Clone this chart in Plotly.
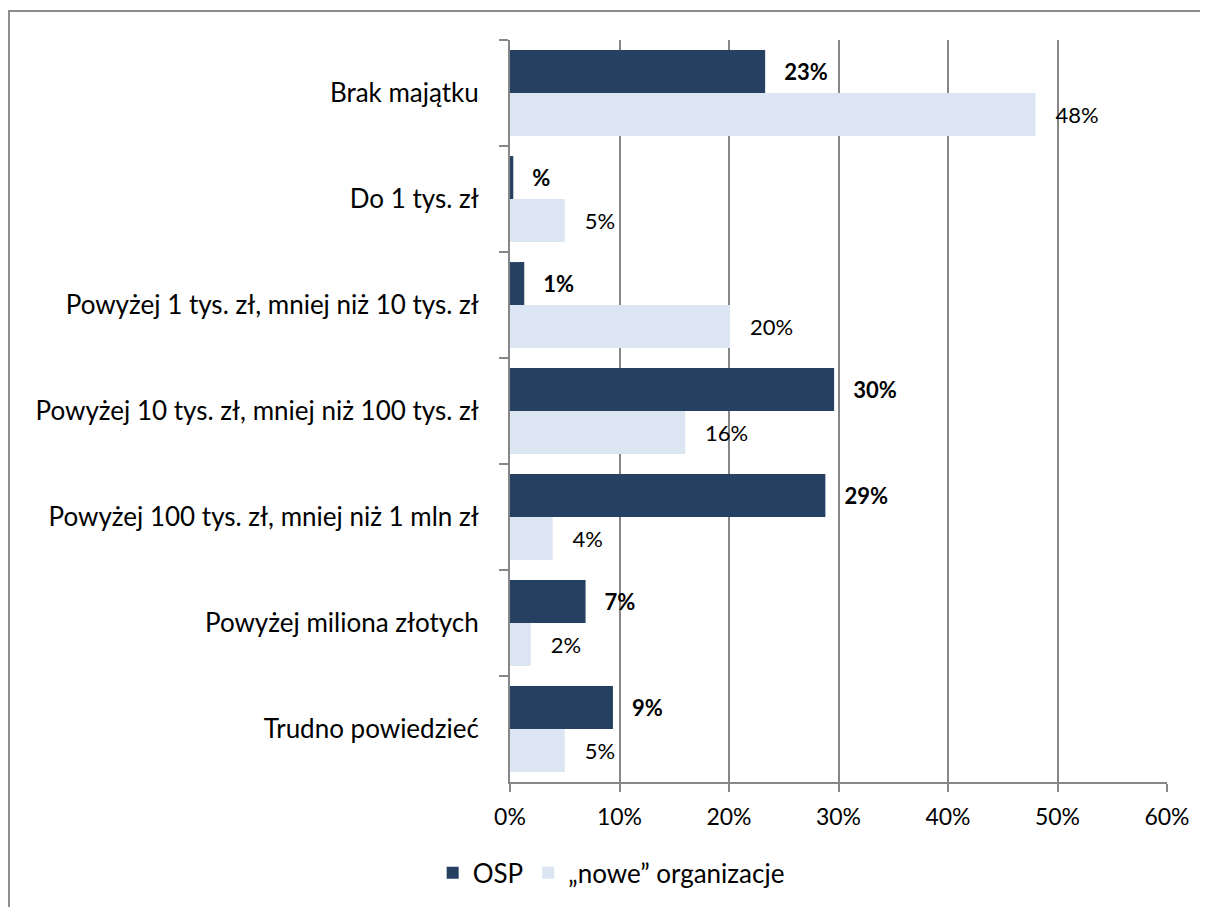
import plotly.graph_objects as go

categories = [
    "Brak majątku",
    "Do 1 tys. zł",
    "Powyżej 1 tys. zł, mniej niż 10 tys. zł",
    "Powyżej 10 tys. zł, mniej niż 100 tys. zł",
    "Powyżej 100 tys. zł, mniej niż 1 mln zł",
    "Powyżej miliona złotych",
    "Trudno powiedzieć",
]
osp_values = [0.233, 0.003, 0.013, 0.296, 0.288, 0.069, 0.094]
osp_labels = ["23%", "%", "1%", "30%", "29%", "7%", "9%"]
new_values = [0.480, 0.050, 0.201, 0.160, 0.039, 0.019, 0.050]
new_labels = ["48%", "5%", "20%", "16%", "4%", "2%", "5%"]
tick_vals = [0, 0.1, 0.2, 0.3, 0.4, 0.5, 0.6]
tick_text = ["0%", "10%", "20%", "30%", "40%", "50%", "60%"]

FONT = "Lato"
PAD = "\u00a0\u00a0\u00a0"

fig = go.Figure()
fig.add_trace(go.Bar(
    y=categories, x=osp_values, orientation="h", name="OSP",
    marker=dict(color="#264061", line=dict(width=0)),
    text=[PAD + t for t in osp_labels], textposition="outside",
    textfont=dict(family=FONT, size=22, color="#000000", weight="bold"),
    cliponaxis=False, constraintext="none",
))
fig.add_trace(go.Bar(
    y=categories, x=new_values, orientation="h", name="„nowe” organizacje",
    marker=dict(color="#DCE6F2", line=dict(width=0)),
    text=[PAD + t for t in new_labels], textposition="outside",
    textfont=dict(family=FONT, size=22, color="#000000"),
    cliponaxis=False, constraintext="none",
))

fig.update_layout(
    width=1208, height=907,
    margin=dict(l=502, r=49, t=32, b=133),
    paper_bgcolor="white", plot_bgcolor="white",
    barmode="group", bargap=0.19, bargroupgap=0,
    font=dict(family=FONT, size=26, color="#000000"),
    showlegend=True,
    legend=dict(orientation="h", x=0.154, xanchor="center", y=-0.1226, yanchor="middle",
                font=dict(family=FONT, size=26), traceorder="normal"),
    xaxis=dict(range=[0, 0.6], tickvals=tick_vals, ticktext=tick_text,
               showgrid=True, gridcolor="#878787", gridwidth=1.5,
               showline=True, linecolor="#878787", linewidth=2,
               ticks="outside", ticklen=8, tickcolor="#878787", tickwidth=1.5,
               zeroline=False, tickfont=dict(family=FONT, size=23), ticklabelstandoff=5),
    yaxis=dict(autorange="reversed", showline=True, linecolor="#878787", linewidth=2,
               ticks="outside", ticklen=9, tickcolor="#878787", tickwidth=1.5,
               tickson="boundaries", showgrid=False,
               tickfont=dict(family=FONT, size=26), ticklabelstandoff=24),
    shapes=[dict(type="rect", xref="paper", yref="paper",
                 x0=-0.7626, x1=1.2, y0=-0.3, y1=1.039,
                 line=dict(color="#8c8c8c", width=2), fillcolor="rgba(0,0,0,0)", layer="below")],
)

fig.write_html("out.html")
